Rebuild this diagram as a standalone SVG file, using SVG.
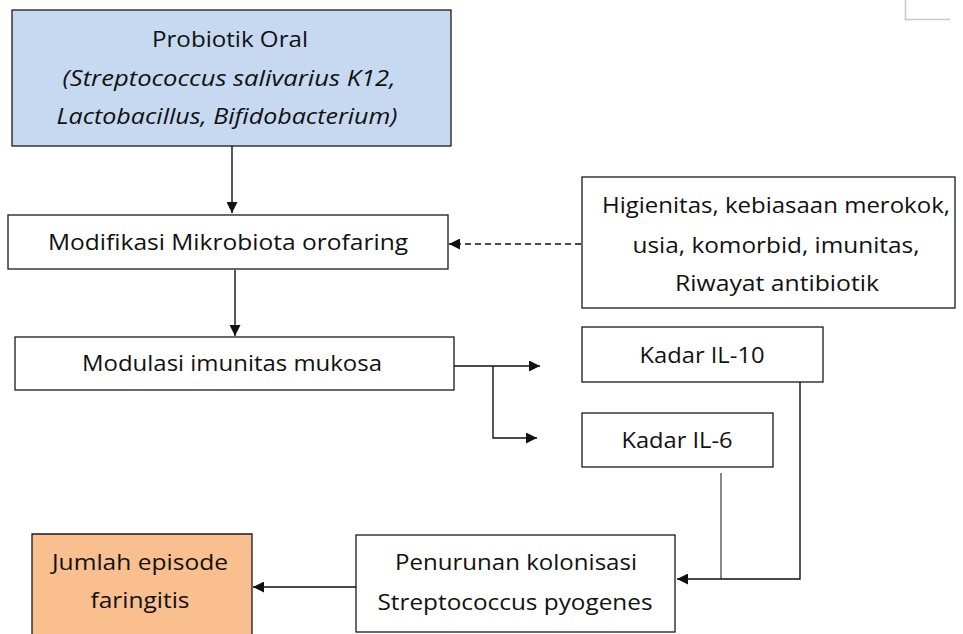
<svg xmlns="http://www.w3.org/2000/svg" width="963" height="634" viewBox="0 0 963 634">
<style>
.box{fill:#fff;stroke:#1a1a1a;stroke-width:1.3}
.t{font-family:"Open Sans","Liberation Sans",Arial,sans-serif;font-size:22px;fill:#111;text-anchor:middle}
.i{font-style:italic}
.c{fill:none;stroke:#111;stroke-width:1.4}
</style>
<defs>
<marker id="ah" viewBox="0 0 10 10" refX="10" refY="5" markerWidth="11" markerHeight="11" markerUnits="userSpaceOnUse" orient="auto">
<path d="M0,0 L10,5 L0,10 z" fill="#111"/>
</marker>
</defs>
<rect width="963" height="634" fill="#fff"/>
<path d="M905.5,0 V19.5 H950" fill="none" stroke="#c8c8c8" stroke-width="1.5"/>
<g id="probiotik">
<rect class="box" x="12" y="10" width="439" height="136" style="fill:#c6d9f1"/>
<text class="t" x="230" y="47" textLength="156" lengthAdjust="spacingAndGlyphs">Probiotik Oral</text>
<text class="t i" x="229" y="86" textLength="333" lengthAdjust="spacingAndGlyphs">(Streptococcus salivarius K12,</text>
<text class="t i" x="227" y="124" textLength="341" lengthAdjust="spacingAndGlyphs">Lactobacillus, Bifidobacterium)</text>
</g>
<g id="modifikasi">
<rect class="box" x="8" y="215" width="440" height="54"/>
<text class="t" x="228" y="250" textLength="360" lengthAdjust="spacingAndGlyphs">Modifikasi Mikrobiota orofaring</text>
</g>
<g id="faktor">
<rect class="box" x="582" y="177" width="373" height="131"/>
<text class="t" x="776" y="213" textLength="348" lengthAdjust="spacingAndGlyphs">Higienitas, kebiasaan merokok,</text>
<text class="t" x="776" y="253" textLength="287" lengthAdjust="spacingAndGlyphs">usia, komorbid, imunitas,</text>
<text class="t" x="777" y="291" textLength="204" lengthAdjust="spacingAndGlyphs">Riwayat antibiotik</text>
</g>
<g id="modulasi">
<rect class="box" x="15" y="337" width="439" height="53"/>
<text class="t" x="232" y="371" textLength="300" lengthAdjust="spacingAndGlyphs">Modulasi imunitas mukosa</text>
</g>
<g id="il10">
<rect class="box" x="582" y="327" width="241" height="55"/>
<text class="t" x="702" y="363" textLength="125" lengthAdjust="spacingAndGlyphs">Kadar IL-10</text>
</g>
<g id="il6">
<rect class="box" x="582" y="413" width="191" height="54"/>
<text class="t" x="677" y="448" textLength="111" lengthAdjust="spacingAndGlyphs">Kadar IL-6</text>
</g>
<g id="penurunan">
<rect class="box" x="356" y="535" width="319" height="97"/>
<text class="t" x="516" y="570" textLength="242" lengthAdjust="spacingAndGlyphs">Penurunan kolonisasi</text>
<text class="t" x="515" y="610" textLength="275" lengthAdjust="spacingAndGlyphs">Streptococcus pyogenes</text>
</g>
<g id="jumlah">
<path d="M32,640 V534 H252 V640" style="fill:#f9bf8f;stroke:#1a1a1a;stroke-width:1.3"/>
<text class="t" x="140" y="570" textLength="176" lengthAdjust="spacingAndGlyphs">Jumlah episode</text>
<text class="t" x="140" y="608" textLength="99" lengthAdjust="spacingAndGlyphs">faringitis</text>
</g>
<g id="connectors">
<line class="c" x1="232" y1="146" x2="232" y2="213" marker-end="url(#ah)"/>
<line class="c" x1="581" y1="244" x2="449" y2="244" stroke-dasharray="6,4" marker-end="url(#ah)"/>
<line class="c" x1="235" y1="270" x2="235" y2="336" marker-end="url(#ah)"/>
<line class="c" x1="454" y1="366" x2="540" y2="366" marker-end="url(#ah)"/>
<polyline class="c" points="493,366 493,438 537,438" marker-end="url(#ah)"/>
<polyline class="c" points="800,382 800,579 677,579" marker-end="url(#ah)"/>
<line class="c" x1="721" y1="473" x2="721" y2="579" style="stroke-width:1"/>
<line class="c" x1="356" y1="587" x2="253" y2="587" marker-end="url(#ah)"/>
</g>
</svg>
